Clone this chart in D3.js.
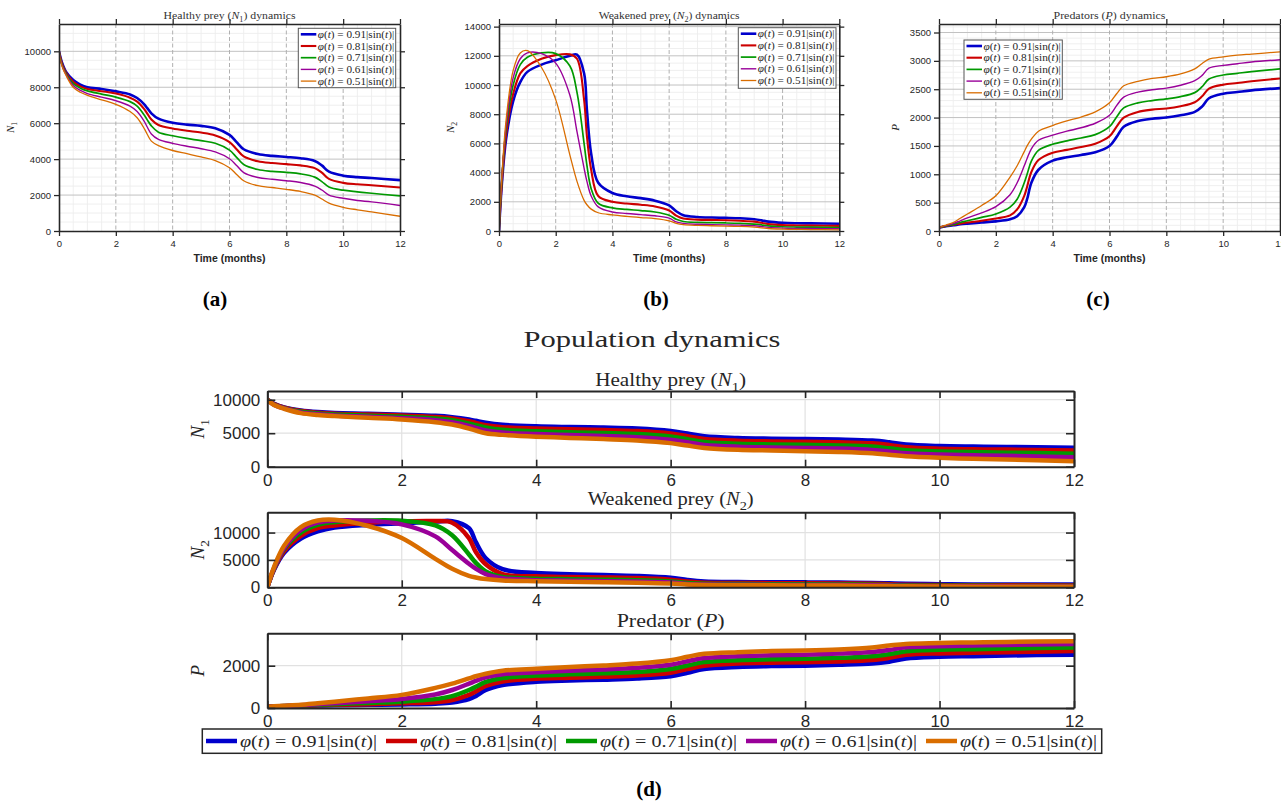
<!DOCTYPE html>
<html><head><meta charset="utf-8">
<script src="https://cdn.jsdelivr.net/npm/d3@7/dist/d3.min.js"></script>
<style>html,body{margin:0;padding:0;background:#fff;} svg{display:block;}</style>
</head><body>
<svg id="chart" width="1281" height="801" xmlns="http://www.w3.org/2000/svg"></svg>
<script>
// ---------------- DATA ----------------
const months = [0, 0.1, 0.25, 0.5, 0.75, 1, 1.5, 2, 2.5, 2.75, 3, 3.1, 3.25, 3.5, 4, 4.5, 5, 5.5, 6, 6.25, 6.5, 7, 7.5, 8, 8.5, 9, 9.25, 9.5, 10, 10.5, 11, 12];
const factors = ["0.91", "0.81", "0.71", "0.61", "0.51"];
const seriesColors = ["#0000CC", "#CC0000", "#009900", "#990099", "#D96D00"];

// Healthy prey N1, one row per factor
const healthyPrey = [
  [10000, 9400, 8850, 8400, 8150, 8000, 7900, 7770, 7600, 7400, 7050, 6850, 6550, 6250, 6020, 5920, 5850, 5720, 5350, 4950, 4550, 4280, 4180, 4120, 4050, 3900, 3650, 3300, 3080, 3000, 2950, 2830],
  [10000, 9350, 8800, 8300, 8050, 7900, 7780, 7650, 7420, 7200, 6780, 6550, 6200, 5900, 5700, 5580, 5480, 5320, 4950, 4550, 4150, 3880, 3780, 3720, 3650, 3500, 3250, 2900, 2680, 2600, 2550, 2420],
  [10000, 9300, 8750, 8200, 7950, 7800, 7620, 7450, 7200, 6950, 6450, 6200, 5850, 5500, 5300, 5150, 5030, 4880, 4500, 4100, 3700, 3420, 3320, 3260, 3180, 3000, 2750, 2450, 2270, 2180, 2100, 1950],
  [10000, 9250, 8700, 8100, 7820, 7650, 7450, 7250, 6950, 6650, 6100, 5800, 5400, 5100, 4880, 4720, 4580, 4400, 4020, 3650, 3250, 2980, 2880, 2800, 2700, 2500, 2280, 2000, 1820, 1700, 1620, 1420],
  [10000, 9200, 8650, 8000, 7720, 7550, 7300, 7050, 6650, 6300, 5700, 5400, 5000, 4750, 4480, 4300, 4120, 3920, 3520, 3150, 2800, 2520, 2420, 2320, 2200, 2000, 1780, 1550, 1320, 1180, 1060, 820]
];
// Weakened prey N2
const weakenedPrey = [
  [0, 3200, 6300, 8900, 10200, 10900, 11400, 11700, 12000, 12080, 10800, 8300, 5300, 3300, 2600, 2380, 2250, 2080, 1750, 1350, 1080, 960, 920, 900, 870, 800, 730, 640, 560, 530, 520, 500],
  [0, 3300, 6600, 9400, 10800, 11300, 11800, 12050, 12100, 11800, 9000, 6500, 4200, 2400, 2000, 1880, 1800, 1680, 1400, 1050, 850, 780, 760, 740, 700, 640, 560, 470, 400, 380, 370, 350],
  [0, 3400, 7000, 10000, 11400, 11900, 12200, 12150, 11300, 9500, 6000, 4500, 2900, 1900, 1580, 1480, 1400, 1300, 1080, 800, 650, 590, 570, 550, 520, 470, 420, 350, 290, 270, 260, 240],
  [0, 3500, 7200, 10500, 11800, 12200, 12150, 11500, 9300, 6800, 4300, 3400, 2400, 1650, 1300, 1200, 1120, 1040, 880, 620, 520, 460, 440, 420, 400, 360, 310, 250, 200, 180, 170, 150],
  [0, 3700, 7600, 11000, 12200, 12350, 11200, 9000, 5200, 3400, 2100, 1800, 1500, 1250, 1100, 1000, 920, 850, 700, 520, 430, 380, 360, 340, 310, 260, 220, 170, 130, 110, 100, 80]
];
// Predators P
const predators = [
  [60, 70, 85, 100, 118, 130, 150, 170, 205, 260, 420, 560, 850, 1080, 1240, 1300, 1340, 1390, 1500, 1660, 1840, 1940, 1980, 2000, 2040, 2100, 2190, 2340, 2420, 2450, 2480, 2520],
  [60, 70, 87, 110, 130, 150, 180, 220, 275, 380, 620, 780, 1040, 1250, 1380, 1430, 1480, 1540, 1670, 1840, 2000, 2100, 2140, 2160, 2200, 2270, 2370, 2510, 2580, 2610, 2640, 2690],
  [60, 72, 90, 115, 150, 180, 240, 300, 420, 560, 850, 1000, 1230, 1420, 1530, 1590, 1640, 1700, 1840, 2010, 2170, 2260, 2300, 2330, 2370, 2440, 2540, 2680, 2750, 2780, 2810, 2860],
  [60, 75, 95, 130, 180, 230, 320, 430, 640, 850, 1150, 1280, 1450, 1600, 1690, 1760, 1820, 1900, 2040, 2210, 2360, 2450, 2490, 2520, 2570, 2650, 2740, 2870, 2920, 2950, 2980, 3020],
  [60, 80, 105, 150, 225, 300, 450, 620, 950, 1150, 1400, 1500, 1620, 1760, 1860, 1940, 2010, 2100, 2260, 2420, 2560, 2640, 2690, 2720, 2770, 2860, 2950, 3030, 3070, 3100, 3120, 3160]
];

const monthTicks = [0, 2, 4, 6, 8, 10, 12];
const healthyTicksTop = [0, 2000, 4000, 6000, 8000, 10000];
const weakenedTicksTop = [0, 2000, 4000, 6000, 8000, 10000, 12000, 14000];
const predatorTicksTop = [0, 500, 1000, 1500, 2000, 2500, 3000, 3500];
const healthyTicksBottom = [0, 5000, 10000];
const weakenedTicksBottom = [0, 5000, 10000];
const predatorTicksBottom = [0, 2000];

// ---------------- DRAWING ----------------
const SERIF = "'Liberation Serif','Times New Roman',serif";
const SANS = "'Liberation Sans',Arial,Helvetica,sans-serif";
const INK = "#262626";
const svg = d3.select("#chart");
svg.append("rect").attr("width", 1281).attr("height", 801).attr("fill", "#fff");
const defs = svg.append("defs");
let clipCount = 0;
function makeClip(x, y, w, h) {
  const id = "clip" + (clipCount++);
  defs.append("clipPath").attr("id", id).append("rect").attr("x", x).attr("y", y).attr("width", w).attr("height", h);
  return "url(#" + id + ")";
}
function rich(textSel, parts, fs) {
  let sub = false;
  parts.forEach(p => {
    const ts = textSel.append("tspan").text(p.t);
    if (p.i) ts.attr("font-style", "italic");
    if (p.sub) { ts.attr("font-size", fs * 0.7).attr("dy", fs * 0.25); sub = true; }
    else if (sub) { ts.attr("dy", -fs * 0.25); sub = false; }
  });
  return textSel;
}
function fit(textSel, w) {
  if (w) textSel.attr("textLength", w).attr("lengthAdjust", "spacingAndGlyphs");
  return textSel;
}
const phiParts = f => [{t: "φ", i: 1}, {t: "("}, {t: "t", i: 1}, {t: ") = " + f + "|sin("}, {t: "t", i: 1}, {t: ")|"}];
const seriesPoints = rows => rows.map(r => months.map((t, j) => [t, r[j]]));
const smooth = d3.curveCatmullRom.alpha(0.5);

function styleAxis(ax, width, fs, font) {
  ax.select(".domain").attr("stroke", INK).attr("stroke-width", width);
  ax.selectAll(".tick line").attr("stroke", INK).attr("stroke-width", width * 0.8);
  ax.selectAll(".tick text").attr("fill", INK).attr("font-size", fs).attr("font-family", font);
}

// ---------- Top panels ----------
const topLineWidths = [2.6, 2.1, 1.7, 1.4, 1.3];
const topPanels = [
  {values: healthyPrey, ticks: healthyTicksTop, yMax: 11520, yMinor: 500, x0: 59, x1: 400,
   ylabel: [{t: "N", i: 1}, {t: "1", sub: 1}], ylabelX: 14,
   title: [{t: "Healthy prey ("}, {t: "N", i: 1}, {t: "1", sub: 1}, {t: ") dynamics"}], titleW: 132,
   legend: [298.3, 28.3, 97.4, 59.4], tag: "(a)", tagX: 215},
  {values: weakenedPrey, ticks: weakenedTicksTop, yMax: 14180, yMinor: 500, x0: 499, x1: 839.3,
   ylabel: [{t: "N", i: 1}, {t: "2", sub: 1}], ylabelX: 454,
   title: [{t: "Weakened prey ("}, {t: "N", i: 1}, {t: "2", sub: 1}, {t: ") dynamics"}], titleW: 141,
   legend: [738.3, 27.7, 97.7, 60.6], tag: "(b)", tagX: 656},
  {values: predators, ticks: predatorTicksTop, yMax: 3650, yMinor: 100, x0: 939, x1: 1280,
   ylabel: [{t: "P", i: 1}], ylabelX: 899,
   title: [{t: "Predators ("}, {t: "P", i: 1}, {t: ") dynamics"}], titleW: 112,
   legend: [964, 40, 98.3, 59.3], tag: "(c)", tagX: 1098}
];

function drawTop(c) {
  const y0 = 24, y1 = 231;
  const g = svg.append("g");
  const x = d3.scaleLinear().domain([0, 12]).range([c.x0, c.x1]);
  const y = d3.scaleLinear().domain([0, c.yMax]).range([y1, y0]);
  g.append("rect").attr("x", c.x0).attr("y", y0).attr("width", c.x1 - c.x0).attr("height", y1 - y0).attr("fill", "#fff");
  const xMinor = d3.range(0.5, 12, 0.5).filter(v => v % 2 !== 0);
  const yMinor = d3.range(c.yMinor, c.yMax, c.yMinor).filter(v => !c.ticks.includes(v));
  const grid = g.append("g");
  grid.selectAll(".xm").data(xMinor).join("line").attr("x1", d => x(d)).attr("x2", d => x(d))
    .attr("y1", y0).attr("y2", y1).attr("stroke", "#ededed").attr("stroke-width", 0.9);
  grid.selectAll(".ym").data(yMinor).join("line").attr("y1", d => y(d)).attr("y2", d => y(d))
    .attr("x1", c.x0).attr("x2", c.x1).attr("stroke", "#ededed").attr("stroke-width", 0.9);
  grid.selectAll(".yM").data(c.ticks.filter(v => v > 0)).join("line").attr("y1", d => y(d)).attr("y2", d => y(d))
    .attr("x1", c.x0).attr("x2", c.x1).attr("stroke", "#c2c2c2").attr("stroke-width", 1);
  grid.selectAll(".xM").data(monthTicks.filter(v => v > 0 && v < 12)).join("line").attr("x1", d => x(d)).attr("x2", d => x(d))
    .attr("y1", y0).attr("y2", y1).attr("stroke", "#b0b0b0").attr("stroke-width", 1).attr("stroke-dasharray", "4,2.5");

  const line = d3.line().x(d => x(d[0])).y(d => y(d[1])).curve(smooth);
  g.append("g").attr("clip-path", makeClip(c.x0, y0, c.x1 - c.x0, y1 - y0))
    .selectAll("path").data(seriesPoints(c.values)).join("path")
    .attr("d", line).attr("fill", "none").attr("stroke", (d, i) => seriesColors[i])
    .attr("stroke-width", (d, i) => topLineWidths[i]).attr("stroke-linejoin", "round");

  const fmt = d3.format("d");
  const axL = g.append("g").attr("transform", `translate(${c.x0},0)`)
    .call(d3.axisLeft(y).tickValues(c.ticks).tickFormat(fmt).tickSizeInner(5).tickSizeOuter(0).tickPadding(3));
  const axB = g.append("g").attr("transform", `translate(0,${y1})`)
    .call(d3.axisBottom(x).tickValues(monthTicks).tickFormat(fmt).tickSizeInner(5).tickSizeOuter(0).tickPadding(4));
  const axT = g.append("g").attr("transform", `translate(0,${y0})`)
    .call(d3.axisTop(x).tickValues(monthTicks).tickFormat("").tickSizeInner(5).tickSizeOuter(0));
  const axR = g.append("g").attr("transform", `translate(${c.x1},0)`)
    .call(d3.axisRight(y).tickValues(c.ticks).tickFormat("").tickSizeInner(5).tickSizeOuter(0));
  [axL, axB, axT, axR].forEach(a => styleAxis(a, 1.6, 9.5, SANS));

  // legend
  const [lx, ly, lw, lh] = c.legend;
  const lg = g.append("g");
  lg.append("rect").attr("x", lx).attr("y", ly).attr("width", lw).attr("height", lh)
    .attr("fill", "#fff").attr("stroke", "#555").attr("stroke-width", 1);
  factors.forEach((f, i) => {
    const ry = ly + 6 + i * 11.7;
    lg.append("line").attr("x1", lx + 2.5).attr("x2", lx + 18).attr("y1", ry).attr("y2", ry)
      .attr("stroke", seriesColors[i]).attr("stroke-width", topLineWidths[i]);
    fit(rich(lg.append("text").attr("x", lx + 19.5).attr("y", ry + 3.6).attr("font-family", SERIF)
      .attr("font-size", 10.5).attr("fill", INK), phiParts(f), 10.5), lw - 21);
  });

  // texts
  fit(rich(g.append("text").attr("x", (c.x0 + c.x1) / 2).attr("y", 19).attr("text-anchor", "middle")
    .attr("font-family", SERIF).attr("font-size", 10.5).attr("fill", "#333"), c.title, 10.5), c.titleW);
  g.append("text").attr("x", (c.x0 + c.x1) / 2).attr("y", 262).attr("text-anchor", "middle")
    .attr("font-family", SANS).attr("font-weight", "bold").attr("font-size", 10.5).attr("fill", INK).text("Time (months)");
  rich(g.append("text").attr("transform", `translate(${c.ylabelX},${(y0 + y1) / 2}) rotate(-90)`)
    .attr("text-anchor", "middle").attr("font-family", SERIF).attr("font-size", 11).attr("fill", INK), c.ylabel, 11);
  g.append("text").attr("x", c.tagX).attr("y", 306).attr("text-anchor", "middle")
    .attr("font-family", SERIF).attr("font-weight", "bold").attr("font-size", 21).attr("fill", "#000").text(c.tag);
}
topPanels.forEach(drawTop);

// ---------- Bottom figure ----------
fit(svg.append("text").attr("x", 652).attr("y", 347).attr("text-anchor", "middle")
  .attr("font-family", SERIF).attr("font-size", 23).attr("fill", INK).text("Population dynamics"), 257);

const bx0 = 267.3, bx1 = 1074;
const bottomPanels = [
  {values: healthyPrey, ticks: healthyTicksBottom, yMax: 11300, y0: 391, y1: 466.7, titleY: 386, titleW: 151,
   title: [{t: "Healthy prey ("}, {t: "N", i: 1}, {t: "1", sub: 1}, {t: ")"}], ylabel: [{t: "N", i: 1}, {t: "1", sub: 1}]},
  {values: weakenedPrey, ticks: weakenedTicksBottom, yMax: 13700, y0: 512.3, y1: 587.3, titleY: 505, titleW: 166,
   title: [{t: "Weakened prey ("}, {t: "N", i: 1}, {t: "2", sub: 1}, {t: ")"}], ylabel: [{t: "N", i: 1}, {t: "2", sub: 1}]},
  {values: predators, ticks: predatorTicksBottom, yMax: 3530, y0: 633.3, y1: 708, titleY: 627, titleW: 108,
   title: [{t: "Predator ("}, {t: "P", i: 1}, {t: ")"}], ylabel: [{t: "P", i: 1}]}
];

function drawBottom(c) {
  const g = svg.append("g");
  const x = d3.scaleLinear().domain([0, 12]).range([bx0, bx1]);
  const y = d3.scaleLinear().domain([0, c.yMax]).range([c.y1, c.y0]);
  g.selectAll(".gx").data(monthTicks.filter(v => v > 0 && v < 12)).join("line")
    .attr("x1", d => x(d)).attr("x2", d => x(d)).attr("y1", c.y0).attr("y2", c.y1)
    .attr("stroke", "#e1e1e1").attr("stroke-width", 1.2);
  g.selectAll(".gy").data(c.ticks.filter(v => v > 0)).join("line")
    .attr("y1", d => y(d)).attr("y2", d => y(d)).attr("x1", bx0).attr("x2", bx1)
    .attr("stroke", "#e1e1e1").attr("stroke-width", 1.2);
  const line = d3.line().x(d => x(d[0])).y(d => y(d[1])).curve(smooth);
  g.append("g").attr("clip-path", makeClip(bx0, c.y0, bx1 - bx0, c.y1 - c.y0))
    .selectAll("path").data(seriesPoints(c.values)).join("path")
    .attr("d", line).attr("fill", "none").attr("stroke", (d, i) => seriesColors[i])
    .attr("stroke-width", 4.5).attr("stroke-linejoin", "round");
  const fmt = d3.format("d");
  const axL = g.append("g").attr("transform", `translate(${bx0},0)`)
    .call(d3.axisLeft(y).tickValues(c.ticks).tickFormat(fmt).tickSizeInner(-8).tickSizeOuter(0).tickPadding(7));
  const axB = g.append("g").attr("transform", `translate(0,${c.y1})`)
    .call(d3.axisBottom(x).tickValues(monthTicks).tickFormat(fmt).tickSizeInner(-7).tickSizeOuter(0).tickPadding(7));
  const axT = g.append("g").attr("transform", `translate(0,${c.y0})`)
    .call(d3.axisTop(x).tickValues(monthTicks).tickFormat("").tickSizeInner(-7).tickSizeOuter(0));
  const axR = g.append("g").attr("transform", `translate(${bx1},0)`)
    .call(d3.axisRight(y).tickValues(c.ticks).tickFormat("").tickSizeInner(-8).tickSizeOuter(0));
  [axL, axB, axT, axR].forEach(a => styleAxis(a, 2, 17, SANS));
  fit(rich(g.append("text").attr("x", (bx0 + bx1) / 2).attr("y", c.titleY).attr("text-anchor", "middle")
    .attr("font-family", SERIF).attr("font-size", 18).attr("fill", INK), c.title, 18), c.titleW);
  rich(g.append("text").attr("transform", `translate(204,${(c.y0 + c.y1) / 2}) rotate(-90)`)
    .attr("text-anchor", "middle").attr("font-family", SERIF).attr("font-size", 19).attr("fill", INK), c.ylabel, 19);
}
bottomPanels.forEach(drawBottom);

// bottom legend
const leg = svg.append("g");
leg.append("rect").attr("x", 202.3).attr("y", 729).attr("width", 899.4).attr("height", 24.3)
  .attr("fill", "#fff").attr("stroke", INK).attr("stroke-width", 1.5);
const legX = d3.scaleLinear().domain([0, 4]).range([206, 926]);
factors.forEach((f, i) => {
  const x0 = legX(i);
  leg.append("line").attr("x1", x0).attr("x2", x0 + 31).attr("y1", 741).attr("y2", 741)
    .attr("stroke", seriesColors[i]).attr("stroke-width", 4.5);
  fit(rich(leg.append("text").attr("x", x0 + 34).attr("y", 746.5).attr("font-family", SERIF)
    .attr("font-size", 16).attr("fill", INK), phiParts(f), 16), 137);
});

svg.append("text").attr("x", 649).attr("y", 796).attr("text-anchor", "middle")
  .attr("font-family", SERIF).attr("font-weight", "bold").attr("font-size", 21).attr("fill", "#000").text("(d)");
</script>
</body></html>
